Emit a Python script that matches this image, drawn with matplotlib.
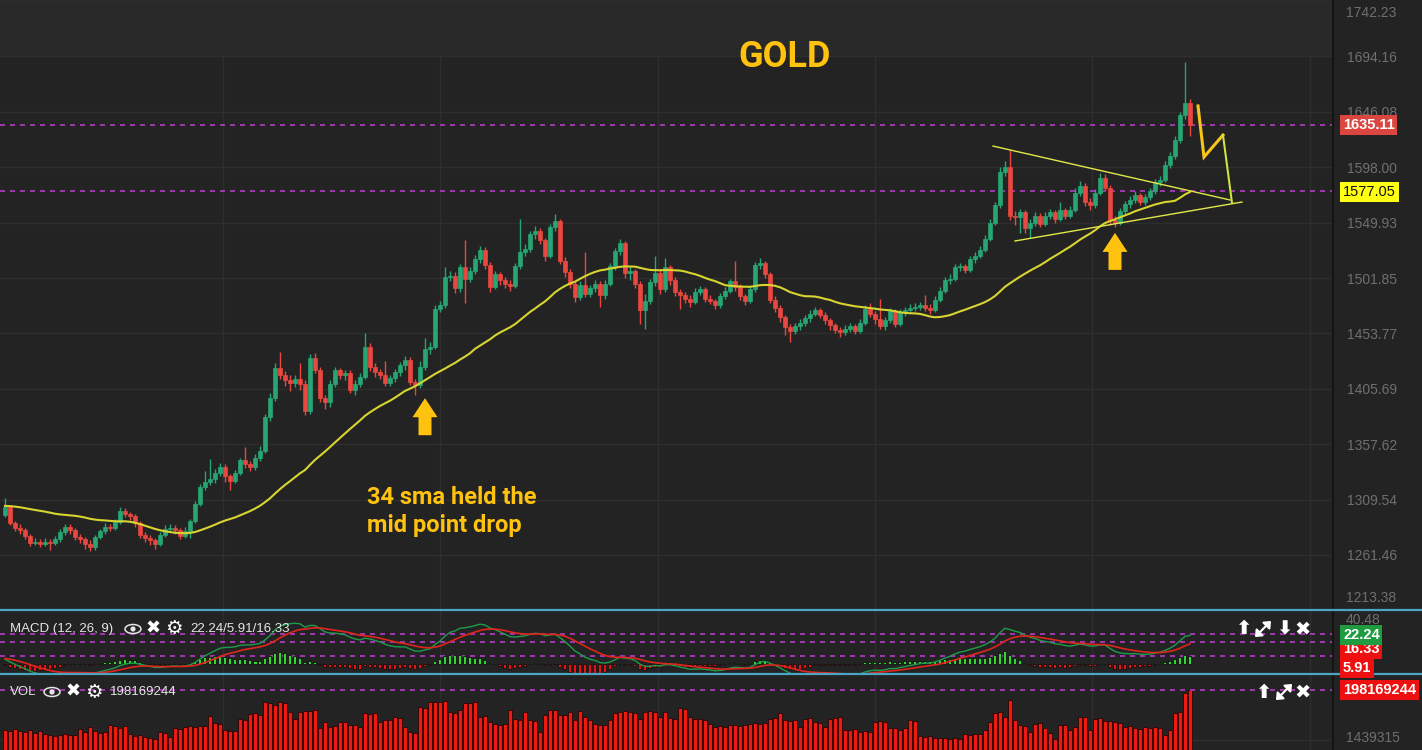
import numpy as np
import pandas as pd
import matplotlib
matplotlib.use("Agg")
import matplotlib.pyplot as plt
import matplotlib.transforms as mtransforms
from matplotlib import font_manager
from matplotlib.patches import Ellipse, Circle, Polygon

# daily closes just before the first visible candle (only feed the 34 sma / macd)
history = [1296, 1299, 1302, 1305, 1301, 1297, 1294, 1298, 1303, 1306,
           1302, 1299, 1296, 1293, 1297, 1300, 1304, 1301, 1298, 1295,
           1298, 1302, 1300, 1297, 1310, 1316, 1320, 1323, 1319, 1321,
           1318, 1314, 1309]

opens = [1296, 1303, 1289, 1285, 1283, 1278, 1272, 1273, 1271, 1273,
         1272, 1275, 1281, 1286, 1283, 1277, 1275, 1271, 1268, 1277,
         1282, 1286, 1285, 1290, 1300, 1297, 1295, 1289, 1279, 1276,
         1274, 1271, 1279, 1284, 1285, 1283, 1278, 1282, 1291, 1306,
         1320, 1325, 1327, 1333, 1338, 1330, 1326, 1333, 1344, 1340,
         1338, 1346, 1352, 1381, 1398, 1424, 1418, 1413, 1411, 1414,
         1410, 1386, 1432, 1422, 1398, 1394, 1410, 1422, 1418, 1419,
         1405, 1410, 1416, 1442, 1425, 1420, 1418, 1411, 1415, 1420,
         1426, 1431, 1412, 1409, 1425, 1440, 1442, 1475, 1478, 1503,
         1504, 1493, 1511, 1501, 1508, 1518, 1526, 1513, 1494, 1505,
         1500, 1497, 1495, 1512, 1524, 1527, 1540, 1543, 1535, 1521,
         1546, 1551, 1517, 1507, 1497, 1485, 1496, 1488, 1493, 1497,
         1487, 1497, 1512, 1525, 1532, 1506, 1508, 1497, 1474, 1482,
         1498, 1506, 1492, 1511, 1500, 1490, 1487, 1484, 1481, 1490,
         1492, 1484, 1482, 1478, 1486, 1491, 1499, 1494, 1486, 1482,
         1492, 1513, 1515, 1505, 1483, 1476, 1468, 1459, 1456, 1460,
         1463, 1467, 1471, 1474, 1470, 1465, 1461, 1457, 1455, 1458,
         1460, 1456, 1463, 1475, 1471, 1466, 1460, 1465, 1473, 1462,
         1472, 1474, 1476, 1477, 1478, 1476, 1474, 1483, 1491, 1500,
         1501, 1511, 1512, 1509, 1518, 1521, 1526, 1536, 1550, 1565,
         1594, 1598, 1556, 1555, 1559, 1545, 1550, 1556, 1549, 1556,
         1559, 1553, 1561, 1556, 1561, 1576, 1582, 1568, 1565, 1576,
         1589, 1580, 1552, 1550, 1560, 1566, 1570, 1574, 1568, 1572,
         1577, 1585, 1587, 1600, 1608, 1622, 1643, 1654]

highs = [1311, 1305, 1291, 1288, 1285, 1280, 1276, 1275, 1276, 1275,
         1278, 1284, 1288, 1288, 1285, 1280, 1277, 1274, 1279, 1284,
         1289, 1288, 1293, 1303, 1302, 1299, 1297, 1291, 1281, 1279,
         1276, 1281, 1287, 1288, 1287, 1285, 1286, 1293, 1308, 1323,
         1334, 1345, 1336, 1341, 1340, 1332, 1335, 1346, 1355, 1343,
         1349, 1356, 1384, 1402, 1428, 1438, 1421, 1418, 1418, 1428,
         1413, 1436, 1437, 1425, 1400, 1413, 1425, 1424, 1422, 1422,
         1413, 1419, 1454, 1445, 1428, 1423, 1430, 1418, 1423, 1429,
         1434, 1433, 1414, 1430, 1450, 1446, 1478, 1482, 1511, 1508,
         1507, 1514, 1535, 1511, 1522, 1530, 1529, 1516, 1508, 1507,
         1503, 1500, 1515, 1553, 1531, 1543, 1547, 1545, 1537, 1549,
         1557, 1553, 1520, 1510, 1499, 1499, 1524, 1496, 1500, 1499,
         1500, 1515, 1528, 1536, 1534, 1512, 1510, 1499, 1488, 1501,
         1521, 1509, 1519, 1513, 1503, 1492, 1490, 1487, 1493, 1495,
         1494, 1487, 1484, 1489, 1494, 1501, 1517, 1497, 1488, 1495,
         1516, 1519, 1517, 1507, 1486, 1478, 1470, 1462, 1463, 1466,
         1470, 1474, 1477, 1476, 1472, 1467, 1463, 1459, 1461, 1463,
         1462, 1466, 1478, 1480, 1473, 1484, 1468, 1476, 1475, 1475,
         1477, 1479, 1480, 1481, 1487, 1479, 1486, 1494, 1503, 1505,
         1514, 1515, 1514, 1521, 1524, 1530, 1539, 1553, 1568, 1598,
         1603, 1613, 1560, 1562, 1561, 1553, 1559, 1558, 1559, 1562,
         1561, 1568, 1563, 1564, 1580, 1586, 1584, 1571, 1579, 1593,
         1592, 1583, 1556, 1563, 1569, 1573, 1577, 1576, 1575, 1580,
         1588, 1590, 1603, 1611, 1625, 1646, 1689, 1657]

lows = [1294, 1287, 1282, 1280, 1275, 1269, 1270, 1268, 1269, 1266,
        1270, 1273, 1279, 1280, 1274, 1272, 1267, 1265, 1266, 1275,
        1280, 1282, 1283, 1288, 1294, 1292, 1286, 1276, 1273, 1270,
        1267, 1269, 1277, 1282, 1280, 1275, 1276, 1276, 1289, 1304,
        1318, 1322, 1324, 1330, 1325, 1318, 1324, 1331, 1337, 1334,
        1335, 1343, 1350, 1378, 1395, 1414, 1408, 1404, 1407, 1405,
        1383, 1384, 1419, 1394, 1388, 1390, 1407, 1414, 1413, 1402,
        1400, 1407, 1414, 1421, 1416, 1414, 1408, 1408, 1412, 1417,
        1422, 1409, 1400, 1406, 1422, 1436, 1440, 1472, 1476, 1499,
        1489, 1490, 1480, 1498, 1505, 1515, 1510, 1490, 1492, 1496,
        1493, 1491, 1493, 1510, 1521, 1524, 1536, 1531, 1517, 1519,
        1543, 1514, 1503, 1493, 1481, 1483, 1485, 1485, 1490, 1477,
        1484, 1495, 1509, 1522, 1502, 1500, 1493, 1462, 1458, 1479,
        1495, 1488, 1490, 1496, 1486, 1475, 1480, 1477, 1479, 1487,
        1481, 1479, 1475, 1476, 1484, 1489, 1491, 1483, 1478, 1480,
        1490, 1510, 1502, 1480, 1472, 1464, 1452, 1446, 1453, 1457,
        1460, 1464, 1469, 1467, 1462, 1457, 1454, 1451, 1452, 1455,
        1453, 1454, 1461, 1468, 1462, 1458, 1457, 1463, 1459, 1460,
        1469, 1472, 1473, 1474, 1473, 1471, 1472, 1481, 1489, 1497,
        1499, 1508, 1506, 1507, 1515, 1519, 1524, 1534, 1548, 1563,
        1590, 1552, 1548, 1541, 1541, 1537, 1547, 1546, 1547, 1553,
        1550, 1551, 1553, 1554, 1559, 1573, 1564, 1561, 1563, 1574,
        1577, 1548, 1546, 1548, 1557, 1563, 1567, 1565, 1565, 1570,
        1575, 1582, 1585, 1597, 1605, 1619, 1640, 1625]

closes = [1303, 1289, 1285, 1283, 1278, 1272, 1273, 1271, 1273, 1272,
          1275, 1281, 1286, 1283, 1277, 1275, 1271, 1268, 1277, 1282,
          1286, 1285, 1290, 1300, 1297, 1295, 1289, 1279, 1276, 1274,
          1271, 1279, 1284, 1285, 1283, 1278, 1282, 1291, 1306, 1320,
          1325, 1327, 1333, 1338, 1330, 1326, 1333, 1344, 1340, 1338,
          1346, 1352, 1381, 1398, 1424, 1418, 1413, 1411, 1414, 1410,
          1386, 1432, 1422, 1398, 1394, 1410, 1422, 1418, 1419, 1405,
          1410, 1416, 1442, 1425, 1420, 1418, 1411, 1415, 1420, 1426,
          1431, 1412, 1409, 1425, 1440, 1442, 1475, 1478, 1503, 1504,
          1493, 1511, 1501, 1508, 1518, 1526, 1513, 1494, 1505, 1500,
          1497, 1495, 1512, 1524, 1527, 1540, 1543, 1535, 1521, 1546,
          1551, 1517, 1507, 1497, 1485, 1496, 1488, 1493, 1497, 1487,
          1497, 1512, 1525, 1532, 1506, 1508, 1497, 1474, 1482, 1498,
          1506, 1492, 1511, 1500, 1490, 1487, 1484, 1481, 1490, 1492,
          1484, 1482, 1478, 1486, 1491, 1499, 1494, 1486, 1482, 1492,
          1513, 1515, 1505, 1483, 1476, 1468, 1459, 1456, 1460, 1463,
          1467, 1471, 1474, 1470, 1465, 1461, 1457, 1455, 1458, 1460,
          1456, 1463, 1475, 1471, 1466, 1460, 1465, 1473, 1462, 1472,
          1474, 1476, 1477, 1478, 1476, 1474, 1483, 1491, 1500, 1501,
          1511, 1512, 1509, 1518, 1521, 1526, 1536, 1550, 1565, 1594,
          1598, 1556, 1555, 1559, 1545, 1550, 1556, 1549, 1556, 1559,
          1553, 1561, 1556, 1561, 1576, 1582, 1568, 1565, 1576, 1589,
          1580, 1552, 1550, 1560, 1566, 1570, 1574, 1568, 1572, 1577,
          1585, 1587, 1600, 1608, 1622, 1643, 1654, 1635]

# volume in millions
volume_m = [41, 38, 44, 36, 34, 40, 30, 36, 24, 21,
            18, 22, 26, 20, 22, 45, 34, 52, 36, 30,
            32, 62, 58, 50, 56, 26, 18, 22, 14, 10,
            6, 34, 30, 15, 48, 44, 52, 56, 54, 58,
            56, 96, 68, 64, 40, 36, 38, 86, 82, 104,
            108, 100, 150, 146, 138, 152, 148, 112, 86, 112,
            116, 114, 118, 48, 74, 54, 56, 74, 72, 60,
            62, 54, 106, 104, 108, 74, 80, 82, 92, 90,
            54, 34, 30, 132, 128, 152, 150, 150, 155, 110,
            106, 118, 148, 146, 150, 92, 96, 72, 66, 60,
            64, 120, 86, 82, 112, 80, 78, 34, 100, 120,
            118, 100, 98, 112, 80, 114, 92, 80, 66, 60,
            62, 80, 106, 110, 114, 112, 108, 86, 112, 114,
            110, 94, 112, 88, 86, 126, 124, 92, 86, 84,
            80, 64, 54, 56, 52, 60, 62, 58, 60, 64,
            68, 66, 70, 86, 90, 106, 80, 78, 82, 54,
            86, 88, 74, 70, 54, 86, 88, 94, 42, 40,
            44, 34, 36, 34, 74, 76, 72, 48, 50, 41,
            48, 80, 78, 18, 12, 16, 10, 8, 10, 6,
            8, 4, 24, 22, 26, 24, 41, 74, 106, 110,
            94, 159, 80, 62, 58, 34, 66, 68, 48, 28,
            4, 62, 60, 41, 54, 92, 94, 40, 86, 88,
            78, 76, 74, 67, 54, 56, 48, 46, 54, 50,
            54, 50, 21, 41, 106, 113, 185, 198.169244]

price_ticks = [1261.46, 1309.54, 1357.62, 1405.69, 1453.77,
               1501.85, 1549.93, 1598.00, 1646.08, 1694.16, 1742.23]
price_marks = [1635.11, 1577.05]
macd_marks = [22.24, 16.33, 5.91]
last_volume = 198169244

# hand-drawn annotations (candle index, price)
tri_upper = [(197.6, 1616.4), (245.0, 1569.6)]
tri_lower = [(202.0, 1534.0), (247.4, 1567.8)]
projection = [(238.6, 1651.2), (239.8, 1606.9), (243.6, 1626.0)]
projection_end = [(243.6, 1626.0), (245.4, 1567.0)]
arrow_tips = [(84.0, 1397.5), (222.0, 1541.0)]

BG = '#232323'
TOP_BAND = '#292929'
GRID = '#2e2e2e'
GREEN = '#27a673'
RED = '#e9473f'
PURPLE = '#b43cc4'
CYAN = '#4aa6c2'
GOLD = '#ffc20e'
AXIS_TXT = '#6f6f6f'

names = {f.name for f in font_manager.fontManager.ttflist}
narrow = 'Roboto' if 'Roboto' in names else 'Liberation Sans'
plt.rcParams['font.family'] = ['Liberation Sans', 'DejaVu Sans']

W, H = 1422, 750
fig = plt.figure(figsize=(W / 100, H / 100), dpi=100, facecolor=BG)


def box(x0, y0, x1, y1):
    return [x0 / W, 1 - y1 / H, (x1 - x0) / W, (y1 - y0) / H]


ax = fig.add_axes(box(0, 0, 1333, 609))
ax_macd = fig.add_axes(box(0, 610, 1333, 674))
ax_vol = fig.add_axes(box(0, 674, 1333, 750))

x = np.arange(len(closes))
o = np.array(opens, float)
c = np.array(closes, float)
hi = np.array(highs, float)
lo = np.array(lows, float)
col = np.where(c >= o, GREEN, RED)

vgrid = [43.6, 87.0, 130.6, 174.0, 217.4, 261.0]
for a in (ax, ax_macd, ax_vol):
    a.set_facecolor(BG)
    a.set_xlim(-1, 265.6)
    for s in a.spines.values():
        s.set_visible(False)
    a.set_xticks([])
    for g in vgrid:
        a.axvline(g, color=GRID, lw=1, zorder=0)

# ---- price panel
ax.set_ylim(1214.5, 1743.2)
ax.axhspan(price_ticks[-2], 1743.2, color=TOP_BAND, lw=0, zorder=0)
for p in price_ticks:
    ax.axhline(p, color=GRID, lw=1, zorder=0)
ax.vlines(x, lo, hi, colors=col, lw=1, zorder=3)
ax.bar(x, np.maximum(np.abs(c - o), 0.6), bottom=np.minimum(o, c), width=0.8,
       color=col, edgecolor=col, lw=0.5, zorder=4)

full = pd.Series(history + closes, dtype=float)
n0 = len(history)
sma = full.rolling(34).mean().to_numpy()[n0:]
ax.plot(x, sma, color='#d8d430', lw=1.5, zorder=5)

for p in price_marks:
    ax.axhline(p, color=PURPLE, lw=1.2, ls=(0, (3, 3)), zorder=2)

ax.yaxis.tick_right()
ax.set_yticks(price_ticks[:-1])
ax.set_yticklabels([f'{p:.2f}' for p in price_ticks[:-1]])
ax.tick_params(axis='y', length=0, pad=10, labelcolor=AXIS_TXT, labelsize=10)

for seg, clr, lw in [(tri_upper, '#e2e84a', 1.0), (tri_lower, '#e2e84a', 1.0),
                     (projection, '#f7c51a', 2.2), (projection_end, '#d2e23c', 1.5)]:
    xs, ys = zip(*seg)
    ax.plot(xs, ys, color=clr, lw=lw, zorder=6, solid_joinstyle='miter')

arrow_shape = [(0, 0), (12.5, -19), (6.5, -19), (6.5, -37), (-6.5, -37), (-6.5, -19), (-12.5, -19)]
for tx, ty in arrow_tips:
    tr = mtransforms.ScaledTranslation(tx, ty, ax.transData)
    ax.add_patch(Polygon(arrow_shape, closed=True, transform=mtransforms.IdentityTransform() + tr,
                         fc=GOLD, ec='none', zorder=7))

# ---- MACD panel
ema12 = full.ewm(span=12, adjust=False).mean()
ema26 = full.ewm(span=26, adjust=False).mean()
macd = (ema12 - ema26).to_numpy()
signal = pd.Series(macd).ewm(span=9, adjust=False).mean().to_numpy()
hist = (macd - signal)[n0:]
macd, signal = macd[n0:], signal[n0:]
ax_macd.set_ylim(-7.5, 40.48)
ax_macd.set_yticks([])
ax_macd.bar(x, hist, width=0.6, color=np.where(hist >= 0, '#33d633', '#e51414'),
            edgecolor='#111111', lw=0.6, zorder=2)
ax_macd.plot(x, signal, color='#e0251c', lw=1.2, zorder=4)
ax_macd.plot(x, macd, color='#1e9c4c', lw=1.0, zorder=3)
for m in macd_marks:
    ax_macd.axhline(m, color=PURPLE, lw=1.2, ls=(0, (3, 3)), zorder=1)

# ---- volume panel
vbot = -37.6
vol = np.array(volume_m, float)
ax_vol.set_ylim(vbot, 261.0)
ax_vol.set_yticks([])
ax_vol.axhline(1.44, color=GRID, lw=1, zorder=0)
ax_vol.bar(x, vol - vbot, bottom=vbot, width=0.8, color='#ec1a10',
           edgecolor='#2a0505', lw=0.6, zorder=2)
ax_vol.axhline(last_volume / 1e6, color=PURPLE, lw=1.2, ls=(0, (3, 3)), zorder=3)

# ---- chrome drawn in pixel space
ui = fig.add_axes([0, 0, 1, 1], zorder=10)
ui.set_xlim(0, W)
ui.set_ylim(H, 0)
ui.axis('off')
ui.patch.set_alpha(0)

ui.plot([1333, 1333], [0, H], color='#141414', lw=1.5)
ui.plot([0, W], [610, 610], color=CYAN, lw=1.6)
ui.plot([0, W], [674, 674], color=CYAN, lw=1.6)

ui.text(1346, 13, '1742.23', color=AXIS_TXT, fontsize=10, va='center')
ui.text(1346, 598, '1213.38', color=AXIS_TXT, fontsize=10, va='center')
ui.text(1346, 620, '40.48', color=AXIS_TXT, fontsize=10, va='center')
ui.text(1346, 738, '1439315', color=AXIS_TXT, fontsize=10, va='center')


def tag(y, s, fc, tc='white', bold=True):
    ui.text(1343, y, s, color=tc, fontsize=10.5, va='center', ha='left',
            fontweight='bold' if bold else 'normal',
            bbox=dict(boxstyle='square,pad=0.18', fc=fc, ec='none'))


tag(125, f'{price_marks[0]:.2f}', '#dc4640')
tag(192, f'{price_marks[1]:.2f}', '#ffff14', tc='#111111', bold=False)
tag(668, f'{macd_marks[2]:.2f}', '#ee1010')
tag(649, f'{macd_marks[1]:.2f}', '#ee1010')
tag(635, f'{macd_marks[0]:.2f}', '#1f9c40')
tag(690, f'{last_volume}', '#ee1010')

WHITE = '#e6e6e6'


def eye(cx, cy):
    ui.add_patch(Ellipse((cx, cy), 16, 9, fill=False, ec=WHITE, lw=1.1))
    ui.add_patch(Circle((cx, cy), 2.6, fc=WHITE, ec='none'))


def expand(cx, cy):
    # the diagonal double arrow icon has no glyph in the installed fonts
    ui.annotate('', xy=(cx + 8, cy - 8), xytext=(cx - 8, cy + 8),
                arrowprops=dict(arrowstyle='<|-|>,head_length=0.35,head_width=0.3',
                                color='white', lw=1.5, mutation_scale=10,
                                shrinkA=0, shrinkB=0))


ui.text(10, 629, 'MACD (12, 26, 9)', color=WHITE, fontsize=9.5, va='center')
eye(133, 629)
ui.text(153, 629, '\u2716', color='white', fontsize=13, va='center', ha='center',
        family='DejaVu Sans')
ui.text(174, 629, '\u2699', color='white', fontsize=14, va='center', ha='center',
        family='DejaVu Sans')
ui.text(190, 629, f'{macd_marks[0]:.2f}/{macd_marks[2]:.2f}/{macd_marks[1]:.2f}',
        color=WHITE, fontsize=9.5, va='center')

ui.text(10, 692, 'VOL', color=WHITE, fontsize=9.5, va='center')
eye(52, 692)
ui.text(73, 692, '\u2716', color='white', fontsize=13, va='center', ha='center',
        family='DejaVu Sans')
ui.text(94, 692, '\u2699', color='white', fontsize=14, va='center', ha='center',
        family='DejaVu Sans')
ui.text(110, 692, f'{last_volume}', color=WHITE, fontsize=9.5, va='center')

for xx, ch in [(1243, '\u2b06'), (1284, '\u2b07'), (1303, '\u2716')]:
    ui.text(xx, 629, ch, color='white', fontsize=14, va='center', ha='center',
            family='DejaVu Sans', fontweight='bold')
expand(1263, 629)
for xx, ch in [(1263, '\u2b06'), (1303, '\u2716')]:
    ui.text(xx, 692, ch, color='white', fontsize=14, va='center', ha='center',
            family='DejaVu Sans', fontweight='bold')
expand(1284, 692)

ui.text(785, 57, 'GOLD', color=GOLD, fontsize=26, fontweight='bold',
        ha='center', va='center', family=narrow)
ui.text(367, 486, '34 sma held the\nmid point drop', color=GOLD, fontsize=17,
        fontweight='bold', ha='left', va='top', linespacing=1.3, family=narrow)

fig.savefig('out.png', dpi=100, facecolor=BG)
